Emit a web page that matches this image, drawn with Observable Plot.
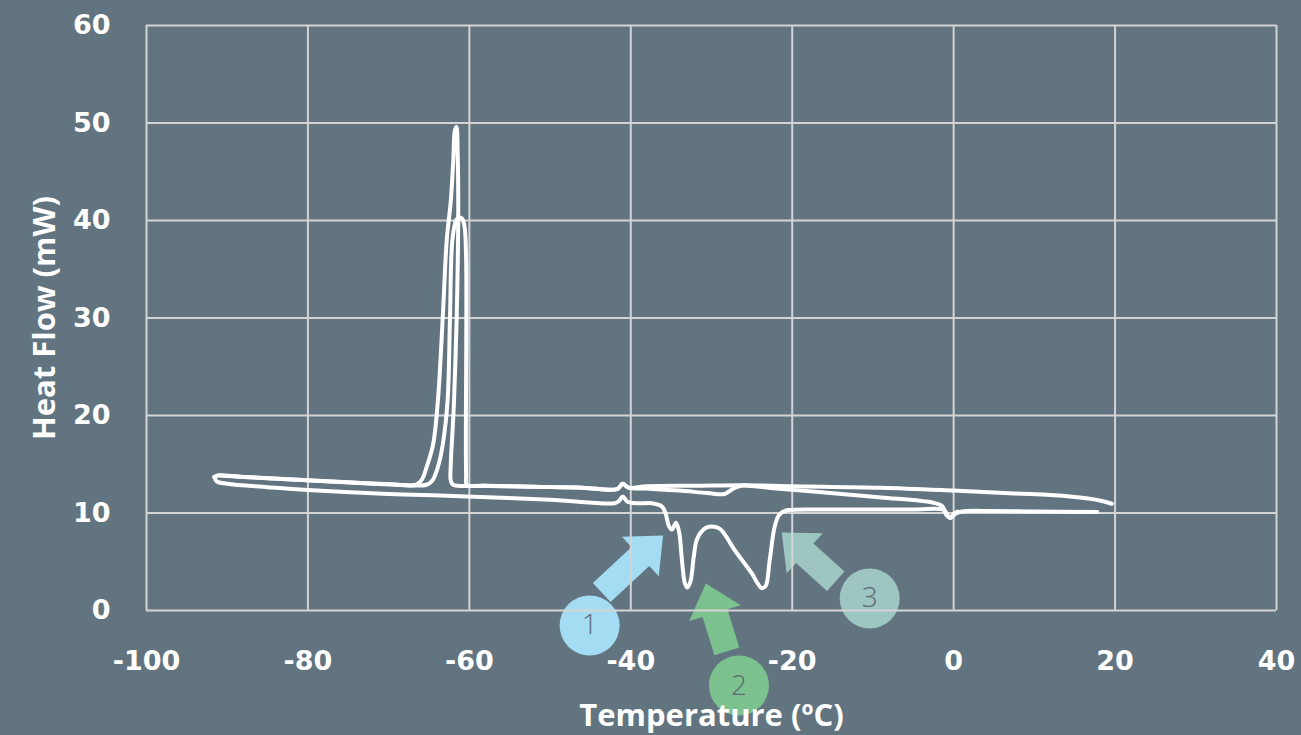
<!DOCTYPE html>
<html><head><meta charset="utf-8">
<script src="https://cdn.jsdelivr.net/npm/d3@7"></script>
<script src="https://cdn.jsdelivr.net/npm/@observablehq/plot@0.6"></script>
<style>html,body{margin:0;padding:0;background:#627480;overflow:hidden;}</style>
</head><body><div id="chart"></div>
<script>
// Axis ticks
const xTicks = [-100, -80, -60, -40, -20, 0, 20, 40];
const xTickLabels = ["-100", "-80", "-60", "-40", "-20", "0", "20", "40"];
const yTicks = [0, 10, 20, 30, 40, 50, 60];
const yTickLabels = ["0", "10", "20", "30", "40", "50", "60"];
const xTitle = "Temperature (ºC)";
const yTitle = "Heat Flow (mW)";

// Cooling run 1 (tall exotherm), traced from the warm end
const cool1T = [19.6, 18.5, 17, 15, 12, 7.5, 0, -9, -20, -26, -32, -38, -40.3, -41.0, -41.7, -46, -52, -58, -62.0, -62.3, -62.3, -61.9, -61.4, -61.45, -61.6, -61.8, -62.0, -62.3, -62.8, -63.3, -63.9, -64.5, -65.3, -65.9, -66.6, -70, -80, -88, -91.2, -91.6];
const cool1Q = [10.95, 11.2, 11.45, 11.65, 11.85, 12.0, 12.3, 12.6, 12.75, 12.85, 12.8, 12.75, 12.6, 13.0, 12.45, 12.6, 12.7, 12.8, 12.9, 13.3, 15, 21.5, 38, 47, 49.6, 49.2, 46, 42, 38, 30, 21.5, 17, 14.7, 13.4, 12.9, 12.95, 13.35, 13.7, 13.85, 13.7];

// Cooling run 2 (lower exotherm)
const cool2T = [0.5, 0.0, -0.4, -0.9, -1.4, -2.5, -9, -16, -22, -26.3, -27.3, -28.4, -30.5, -34, -38, -40.3, -41.0, -41.7, -46, -52, -58, -60.3, -60.4, -60.4, -60.6, -60.9, -61.2, -61.6, -62.1, -62.4, -62.7, -63.3, -63.9, -64.6, -65.3, -70, -80, -88, -91.0];
const cool2Q = [10.15, 9.9, 9.5, 9.8, 10.7, 11.05, 11.6, 12.1, 12.5, 12.8, 12.5, 11.95, 12.05, 12.3, 12.5, 12.6, 13.0, 12.45, 12.6, 12.7, 12.8, 12.9, 14, 36, 39.4, 40.2, 40.3, 40.1, 38, 30, 21.5, 17, 14.7, 13.3, 12.9, 12.95, 13.35, 13.7, 13.85];

// Heating run (endotherms 1, 2, 3)
const heatT = [-91.6, -91.3, -90, -85, -80, -70, -62, -50, -42, -41.5, -41.0, -40.4, -39, -37.4, -36.2, -35.7, -35.3, -34.9, -34.4, -34.0, -33.7, -33.3, -33.0, -32.6, -32.2, -31.8, -31.0, -30.3, -29, -27.1, -25.0, -24.3, -23.8, -23.3, -22.8, -22.2, -21.7, -21.2, -20.5, -15, -5, -1.2, -0.7, -0.4, 0.2, 1.0, 5, 10, 17.8];
const heatQ = [13.7, 13.25, 13.0, 12.65, 12.35, 11.95, 11.75, 11.35, 11.0, 11.2, 11.7, 11.15, 11.0, 11.0, 10.7, 10.0, 8.7, 8.3, 9.0, 8.0, 5.5, 2.8, 2.35, 3.0, 5.5, 7.3, 8.3, 8.6, 8.4, 6.15, 3.8, 2.8, 2.3, 2.5, 5.1, 8.5, 9.7, 10.1, 10.3, 10.35, 10.35, 10.3, 9.7, 9.5, 9.9, 10.15, 10.2, 10.15, 10.1];

// Annotations: numbered circles and block arrows
const annLabels = ["1", "2", "3"];
const annColors = ["#a3dcf3", "#7cc28e", "#9dc5c2"];
const annT = [-45.1, -26.6, -10.4];
const annQ = [-1.54, -7.7, 1.23];
const arrowTailT = [-43.6, -28.1, -14.6];
const arrowTailQ = [1.85, -4.2, 3.0];
const arrowTipT = [-36.0, -30.7, -21.3];
const arrowTipQ = [7.7, 2.77, 8.0];

// Layout
const W = 1301, H = 735, mL = 146, mR = 25, mT = 25, mB = 125;
const xDomain = [-100, 40], yDomain = [0, 60];
const kx = (W - mL - mR) / (xDomain[1] - xDomain[0]);
const ky = (H - mT - mB) / (yDomain[1] - yDomain[0]);

const toRows = (name, T, Q) => T.map((t, i) => ({series: name, t, q: Q[i]}));
const curves = [
  ...toRows("cool2", cool2T, cool2Q),
  ...toRows("cool1", cool1T, cool1Q),
  ...toRows("heat", heatT, heatQ)
];

// Block arrow polygons built from tail/tip (shape sizes in px, converted back to data units)
const shaft = 13, headW = 27, headL = 31;
const arrowRows = [];
annLabels.forEach((lab, i) => {
  const x0 = arrowTailT[i] * kx, y0 = -arrowTailQ[i] * ky;
  const x1 = arrowTipT[i] * kx, y1 = -arrowTipQ[i] * ky;
  const L = Math.hypot(x1 - x0, y1 - y0);
  const ux = (x1 - x0) / L, uy = (y1 - y0) / L;
  const nx = -uy, ny = ux;
  const bx = x1 - ux * headL, by = y1 - uy * headL;
  const pts = [
    [x0 + nx * shaft, y0 + ny * shaft],
    [bx + nx * shaft, by + ny * shaft],
    [bx + nx * headW, by + ny * headW],
    [x1, y1],
    [bx - nx * headW, by - ny * headW],
    [bx - nx * shaft, by - ny * shaft],
    [x0 - nx * shaft, y0 - ny * shaft],
    [x0 + nx * shaft, y0 + ny * shaft]
  ];
  pts.forEach(([px, py]) => arrowRows.push({k: lab, color: annColors[i], t: px / kx, q: -py / ky}));
});
const annRows = annLabels.map((lab, i) => ({lab, t: annT[i], q: annQ[i], color: annColors[i]}));

const chart = Plot.plot({
  width: W, height: H,
  marginLeft: mL, marginRight: mR, marginTop: mT, marginBottom: mB,
  x: {domain: xDomain},
  y: {domain: yDomain},
  style: {background: "#627480", color: "white", fontFamily: "'DejaVu Sans', sans-serif", overflow: "visible"},
  marks: [
    Plot.line(arrowRows, {x: "t", y: "q", z: "k", fill: "color", stroke: "none"}),
    Plot.dot(annRows, {x: "t", y: "q", r: 30, fill: "color", stroke: "none"}),
    Plot.text(annRows, {x: "t", y: "q", text: "lab", fill: "#5d6a73", fontSize: 28, fontFamily: "'Open Sans', sans-serif", fontWeight: 300, lineAnchor: "middle"}),
    Plot.gridX(xTicks, {stroke: "#d4d4d4", strokeOpacity: 1, strokeWidth: 2}),
    Plot.gridY(yTicks, {stroke: "#d4d4d4", strokeOpacity: 1, strokeWidth: 2}),
    Plot.axisX(xTicks, {tickSize: 0, tickPadding: 40, tickFormat: d => xTickLabels[xTicks.indexOf(d)], fontSize: 27, fontWeight: "bold", fill: "white", label: null}),
    Plot.axisY(yTicks, {tickSize: 0, tickPadding: 36, tickFormat: d => yTickLabels[yTicks.indexOf(d)], fontSize: 27, fontWeight: "bold", fill: "white", label: null}),
    Plot.line(curves, {x: "t", y: "q", z: "series", stroke: "white", strokeWidth: 4, curve: "catmull-rom", strokeLinejoin: "round", strokeLinecap: "round"}),
    Plot.text([xTitle], {frameAnchor: "bottom", dy: 106, text: d => d, lineAnchor: "middle", textAnchor: "middle", fontSize: 31, fontWeight: "bold", fontFamily: "'Open Sans', sans-serif", fill: "white"}),
    Plot.text([yTitle], {frameAnchor: "left", dx: -101, rotate: -90, text: d => d, lineAnchor: "middle", textAnchor: "middle", fontSize: 31, fontWeight: "bold", fontFamily: "'Open Sans', sans-serif", fill: "white"})
  ]
});
document.getElementById("chart").append(chart);
</script>
</body></html>
